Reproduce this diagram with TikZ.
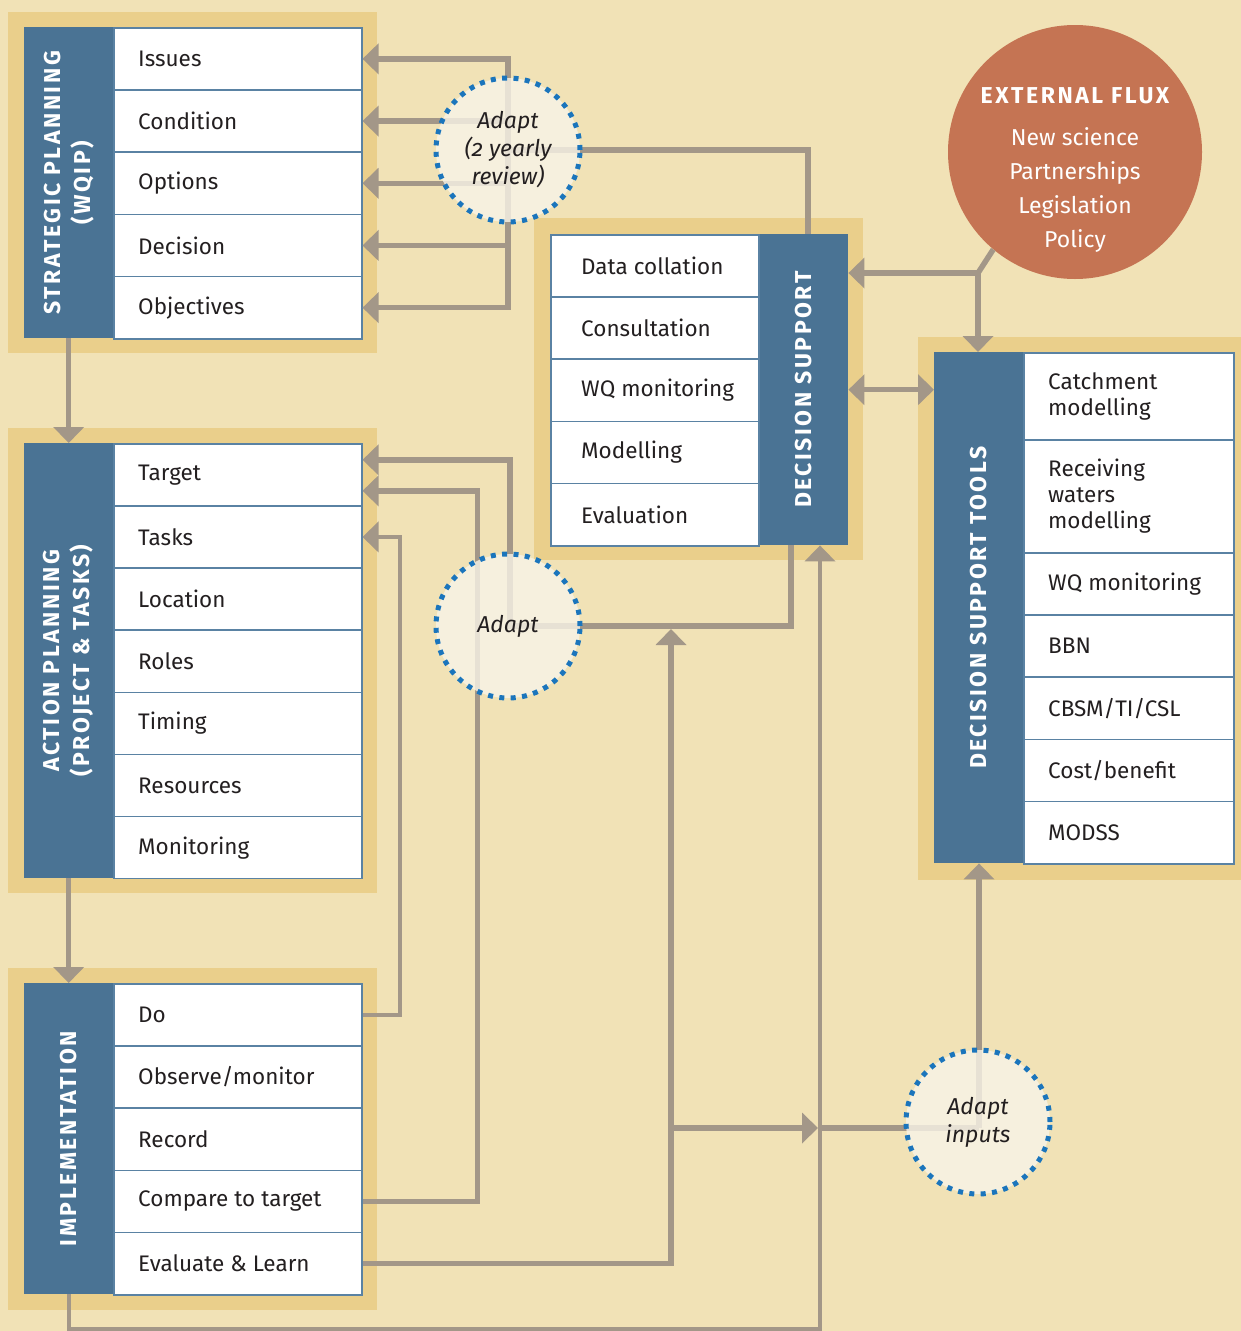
\documentclass[tikz,border=0pt]{standalone}
\usepackage{fontspec}
\setmainfont{Fira Sans}[Numbers=OldStyle]
\newfontfamily\spacedbold{Fira Sans}[LetterSpace=11]
\usetikzlibrary{arrows.meta,calc}
\definecolor{bgC}{HTML}{F1E2B6}
\definecolor{frameC}{HTML}{EACF8B}
\definecolor{blueC}{HTML}{4A7394}
\definecolor{rowL}{HTML}{5A82A3}
\definecolor{lineC}{HTML}{A39788}
\definecolor{fluxC}{HTML}{C57453}
\definecolor{dotC}{HTML}{1B75BC}
\definecolor{circF}{HTML}{F8F4E8}
\definecolor{txtC}{HTML}{231F20}
\tikzset{
  bluecol/.style={fill=blueC, draw=none, anchor=north west, inner sep=0pt},
  rowbox/.style={fill=white, draw=rowL, line width=1.5pt, anchor=north west, inner sep=0pt},
  rowtext/.style={anchor=west, align=left, inner sep=0pt, text=txtC, font=\fontsize{22.5}{26}\selectfont},
  vlabel/.style={rotate=90, align=center, text=white, inner sep=0pt, font=\spacedbold\bfseries\fontsize{23}{30}\selectfont},
  conn/.style={draw=lineC, line width=5.5pt},
  thinconn/.style={draw=lineC, line width=4pt},
  arr/.style={-{Triangle[width=30pt,length=16pt]}},
  adapt/.style={circle, minimum size=144pt, inner sep=0pt, fill=circF, fill opacity=0.8, text opacity=1,
    draw=dotC, line width=5pt, dash pattern=on 5pt off 6.4pt, align=center, text=txtC,
    font=\itshape\fontsize{23}{28}\selectfont},
}
\begin{document}
\begin{tikzpicture}[x=1pt,y=-1pt]
\useasboundingbox (0,0) rectangle (1241,1331);
\fill[bgC] (0,0) rectangle (1241,1331);
% frames
\fill[frameC] (8,12) rectangle (377,353);
\fill[frameC] (8,428) rectangle (377,893);
\fill[frameC] (8,968) rectangle (377,1310);
\fill[frameC] (534,218) rectangle (863,560);
\fill[frameC] (918,337) rectangle (1241,880);
% blue columns
\node[bluecol, minimum width=89pt, minimum height=311pt] (spb) at (24,27) {};
\node[bluecol, minimum width=89pt, minimum height=435pt] (apb) at (24,443) {};
\node[bluecol, minimum width=89pt, minimum height=311pt] (imb) at (24,983) {};
\node[bluecol, minimum width=90pt, minimum height=311pt] (dsb) at (758,234) {};
\node[bluecol, minimum width=89pt, minimum height=511pt] (dtb) at (934,352) {};
\node[vlabel] (spbt) at (spb.center) {STRATEGIC PLANNING\\(WQIP)};
\node[vlabel] (apbt) at (apb.center) {ACTION PLANNING\\(PROJECT \& TASKS)};
\node[vlabel] (imbt) at (imb.center) {IMPLEMENTATION};
\node[vlabel] (dsbt) at (dsb.center) {DECISION SUPPORT};
\node[vlabel] (dtbt) at (dtb.center) {DECISION SUPPORT TOOLS};
% rows
\foreach \t [count=\i] in {Issues,Condition,Options,Decision,Objectives}{
  \node[rowbox, minimum width=248pt, minimum height=62.2pt] (sp\i) at (113,{27+(\i-1)*62.2}) {};
  \node[rowtext] (spt\i) at ([xshift=25pt]sp\i.west) {\t};
}
\foreach \t [count=\i] in {Target,Tasks,Location,Roles,Timing,Resources,Monitoring}{
  \node[rowbox, minimum width=248pt, minimum height=62.14pt] (ap\i) at (113,{443+(\i-1)*62.14}) {};
  \node[rowtext] (apt\i) at ([xshift=25pt]ap\i.west) {\t};
}
\foreach \t [count=\i] in {Do,Observe/monitor,Record,Compare to target,Evaluate \& Learn}{
  \node[rowbox, minimum width=248pt, minimum height=62.2pt] (im\i) at (113,{983+(\i-1)*62.2}) {};
  \node[rowtext] (imt\i) at ([xshift=25pt]im\i.west) {\t};
}
\foreach \t [count=\i] in {Data collation,Consultation,WQ monitoring,Modelling,Evaluation}{
  \node[rowbox, minimum width=208pt, minimum height=62.2pt] (ds\i) at (550,{234+(\i-1)*62.2}) {};
  \node[rowtext] (dst\i) at ([xshift=31pt]ds\i.west) {\t};
}
\node[rowbox, minimum width=210pt, minimum height=87pt] (dt1) at (1023,352) {};
\node[rowtext] (dtt1) at ([xshift=25pt]dt1.west) {Catchment\\modelling};
\node[rowbox, minimum width=210pt, minimum height=113pt] (dt2) at (1023,439) {};
\node[rowtext] (dtt2) at ([xshift=25pt]dt2.west) {Receiving\\waters\\modelling};
\foreach \t [count=\i from 3] in {WQ monitoring,BBN,CBSM/TI/CSL,Cost/benefit,MODSS}{
  \node[rowbox, minimum width=210pt, minimum height=62.2pt] (dt\i) at (1023,{552+(\i-3)*62.2}) {};
  \node[rowtext] (dtt\i) at ([xshift=25pt]dt\i.west) {\t};
}
% external flux
\node[circle, fill=fluxC, minimum size=254pt, inner sep=0pt] (flux) at (1075,152) {};
\node[anchor=north, align=center, text=white, inner sep=0pt, font=\fontsize{23}{34}\selectfont] (fluxt) at (1075,87)
  {{\spacedbold\bfseries EXTERNAL FLUX}\\[8pt]New science\\Partnerships\\Legislation\\Policy};
% coordinates
\coordinate (c1) at (508,150);
\coordinate (c2) at (510,626);
\coordinate (c3) at (979,1128);
\coordinate (evtop) at (671,629);
\coordinate (evj) at (671,1128);
\coordinate (dsv) at (820,1329);
\coordinate (fj) at (978,273);
% connectors: strategic planning
\draw[conn] ([xshift=5pt]dsb.north) |- (c1);
\draw[conn, line cap=rect] (sp1.east -| c1) -- (sp5.east -| c1);
\foreach \i in {1,...,5} \draw[conn,arr] (sp\i.east -| c1) -- (sp\i.east);
\draw[conn,arr] (spb.south) -- (apb.north);
\draw[conn,arr] (apb.south) -- (imb.north);
% action planning
\draw[conn,arr] ([xshift=-12pt]dsb.south) |- (c2) |- ([yshift=15pt]ap1.east);
\draw[conn,arr] (im4.east) -- ++(115,0) |- ([yshift=-16pt]ap1.east);
\draw[thinconn,arr] (im1.east) -- ++(37,0) |- (ap2.east);
\draw[conn,arr] (im5.east) -| (evtop);
\draw[conn,arr] (evj) -- ([xshift=-2pt]evj -| dsv);
\draw[thinconn,arr] (imb.south) |- (dsv) -- (dsv |- dsb.south);
\draw[conn] (dsv |- c3) -- (c3);
\draw[conn,arr] (c3) -- (c3 |- dtb.south);
% external flux connectors
\draw[conn] (flux.230) -- (fj);
\draw[conn,arr] (fj) -- (fj -| dsb.east);
\draw[conn,arr] (fj) -- (fj |- dtb.north);
\draw[conn,{Triangle[width=30pt,length=16pt]}-{Triangle[width=30pt,length=16pt]}] (dsb.east) -- (dsb.east -| dtb.west);
% adapt circles
\node[adapt] (ad1) at (508,150) {Adapt\\(2 yearly\\review)};
\node[adapt] (ad2) at (508,626) {Adapt};
\node[adapt] (ad3) at (978,1122) {Adapt\\inputs};
\end{tikzpicture}
\end{document}
